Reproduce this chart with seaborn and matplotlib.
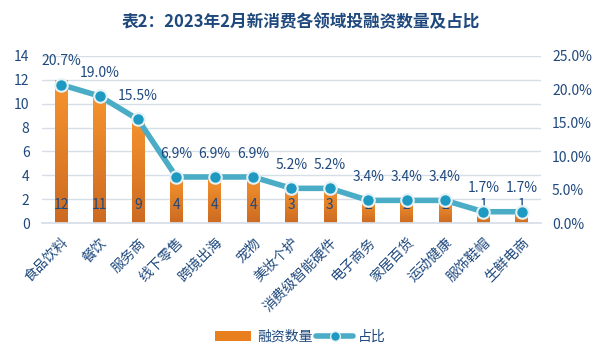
import matplotlib
matplotlib.use("Agg")
import matplotlib.pyplot as plt
import seaborn as sns
import pandas as pd
import numpy as np
from matplotlib.lines import Line2D
from matplotlib.patches import Patch
from matplotlib.colors import LinearSegmentedColormap

categories = ["食品饮料", "餐饮", "服务商", "线下零售", "跨境出海", "宠物", "美妆个护",
              "消费级智能硬件", "电子商务", "家居百货", "运动健康", "服饰鞋帽", "生鲜电商"]
counts = [12, 11, 9, 4, 4, 4, 3, 3, 2, 2, 2, 1, 1]
shares = [20.7, 19.0, 15.5, 6.9, 6.9, 6.9, 5.2, 5.2, 3.4, 3.4, 3.4, 1.7, 1.7]
left_ticks = [0, 2, 4, 6, 8, 10, 12, 14]
right_ticks = [0, 5, 10, 15, 20, 25]

sns.set_theme(style="white")
plt.rcParams['font.family'] = ['Noto Sans CJK SC', 'DejaVu Sans']

navy = "#1F497D"
orange = "#E8801F"
line_c = "#4BACC6"
marker_c = "#1E9AC2"
grid_c = "#D6DEE8"

df = pd.DataFrame({"cat": categories, "count": counts, "share": shares})

fig = plt.figure(figsize=(6.01, 3.61), dpi=100)
ax = fig.add_axes([0.07, 0.382, 0.83, 0.463])
sns.barplot(data=df, x="cat", y="count", color=orange, width=0.33, ax=ax,
            saturation=1, edgecolor="none")
ax.set_ylim(0, 14)
ax.set_yticks(left_ticks)
ax.set_xlim(-0.5, len(categories) - 0.5)
ax.yaxis.grid(True, color=grid_c, linewidth=1)
ax.set_axisbelow(True)
for s in ["top", "right", "left"]:
    ax.spines[s].set_visible(False)
ax.spines["bottom"].set_color(grid_c)
ax.set_xlabel("")
ax.set_ylabel("")
ax.tick_params(axis="y", colors=navy, labelsize=10, length=0, pad=9)
ax.tick_params(axis="x", colors=navy, labelsize=10, length=0, pad=9)
ax.set_xticks(range(len(categories)))
ax.set_xticklabels(categories, rotation=45, ha="right", rotation_mode="anchor", color=navy)

# vertical gradient on each bar
cmap = LinearSegmentedColormap.from_list("og", ["#CC6A22", "#F7952F"])
grad = np.linspace(0, 1, 256).reshape(-1, 1)
for p in list(ax.patches):
    x0, y0 = p.get_x(), p.get_y()
    w, h = p.get_width(), p.get_height()
    im = ax.imshow(grad, cmap=cmap, origin="lower", aspect="auto",
                   extent=(x0, x0 + w, y0, y0 + h), zorder=p.get_zorder() + 0.1)
    im.set_clip_path(p)
ax.set_xlim(-0.5, len(categories) - 0.5)
ax.set_ylim(0, 14)

for i, v in enumerate(counts):
    ax.text(i, 1.5, str(v), ha="center", va="center", color=navy, fontsize=10, zorder=5)

ax2 = ax.twinx()
ax2.set_ylim(0, 25)
sns.lineplot(x=np.arange(len(categories)), y=shares, ax=ax2, color=line_c, linewidth=4,
             marker="o", markersize=9, markerfacecolor=marker_c, markeredgecolor="#E4F1F5",
             markeredgewidth=1.5, legend=False)
ax2.set_yticks(right_ticks)
ax2.set_yticklabels([f"{t:.1f}%" for t in right_ticks])
ax2.tick_params(axis="y", colors=navy, labelsize=10, length=0, pad=8)
for s in ["top", "right", "left", "bottom"]:
    ax2.spines[s].set_visible(False)
ax2.set_ylabel("")
ax2.grid(False)
for i, v in enumerate(shares):
    ax2.text(i, v + 3.5, f"{v:.1f}%", ha="center", va="center", color=navy, fontsize=10)

fig.text(0.5, 0.94, "表2：2023年2月新消费各领域投融资数量及占比", ha="center", va="center",
         fontsize=12, fontweight="bold", color=navy)

handles = [Patch(facecolor=orange, edgecolor="none"),
           Line2D([0], [0], color=line_c, linewidth=4, marker="o", markersize=7,
                  markerfacecolor=marker_c, markeredgecolor="#E4F1F5")]
leg = fig.legend(handles, ["融资数量", "占比"], loc="center", bbox_to_anchor=(0.5, 0.066),
                 ncol=2, frameon=False, fontsize=10, handlelength=2.6, columnspacing=0.3,
                 handletextpad=0.4)
for t in leg.get_texts():
    t.set_color(navy)

fig.savefig("out.png", dpi=100)
